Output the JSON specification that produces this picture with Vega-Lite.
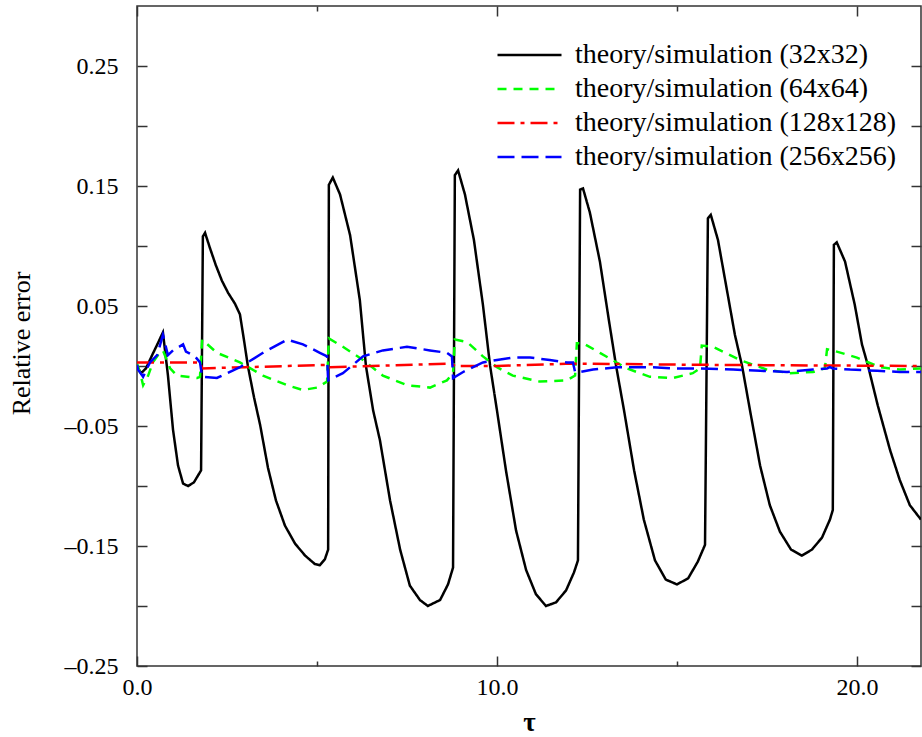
{
  "$schema": "https://vega.github.io/schema/vega-lite/v6.json",
  "width": 784,
  "height": 660,
  "autosize": {"type": "none"},
  "padding": {"left": 137, "top": 6, "right": 1, "bottom": 71},
  "background": "white",
  "config": {
    "font": "Liberation Serif",
    "view": {"stroke": "#333333", "strokeWidth": 1.5},
    "axis": {
      "domain": false,
      "grid": false,
      "tickColor": "#333333",
      "tickWidth": 1.5,
      "labelFont": "Liberation Serif",
      "labelFontSize": 24,
      "labelColor": "black",
      "labelOverlap": false,
      "labelFlush": false,
      "titleFont": "Liberation Serif",
      "titleColor": "black"
    },
    "legend": {
      "orient": "none",
      "legendX": 359,
      "legendY": 32,
      "padding": 0,
      "symbolType": "stroke",
      "symbolSize": 4096,
      "symbolStrokeWidth": 2.5,
      "labelFont": "Liberation Serif",
      "labelFontSize": 28,
      "labelColor": "black",
      "labelOffset": 12,
      "labelLimit": 0,
      "clipHeight": 34,
      "rowPadding": 0
    }
  },
  "data": {"values": [
    {"t":0,"v":0.0,"s":"theory/simulation (32x32)"},
    {"t":0.11,"v":-0.006,"s":"theory/simulation (32x32)"},
    {"t":0.25,"v":-0.002,"s":"theory/simulation (32x32)"},
    {"t":0.42,"v":0.009,"s":"theory/simulation (32x32)"},
    {"t":0.58,"v":0.019,"s":"theory/simulation (32x32)"},
    {"t":0.72,"v":0.028,"s":"theory/simulation (32x32)"},
    {"t":0.86,"v":-0.008,"s":"theory/simulation (32x32)"},
    {"t":1.0,"v":-0.053,"s":"theory/simulation (32x32)"},
    {"t":1.14,"v":-0.083,"s":"theory/simulation (32x32)"},
    {"t":1.28,"v":-0.098,"s":"theory/simulation (32x32)"},
    {"t":1.42,"v":-0.1,"s":"theory/simulation (32x32)"},
    {"t":1.58,"v":-0.097,"s":"theory/simulation (32x32)"},
    {"t":1.72,"v":-0.09,"s":"theory/simulation (32x32)"},
    {"t":1.78,"v":-0.087,"s":"theory/simulation (32x32)"},
    {"t":1.83,"v":0.108,"s":"theory/simulation (32x32)"},
    {"t":1.89,"v":0.111,"s":"theory/simulation (32x32)"},
    {"t":2.03,"v":0.098,"s":"theory/simulation (32x32)"},
    {"t":2.19,"v":0.084,"s":"theory/simulation (32x32)"},
    {"t":2.36,"v":0.071,"s":"theory/simulation (32x32)"},
    {"t":2.53,"v":0.061,"s":"theory/simulation (32x32)"},
    {"t":2.72,"v":0.052,"s":"theory/simulation (32x32)"},
    {"t":2.86,"v":0.043,"s":"theory/simulation (32x32)"},
    {"t":2.97,"v":0.022,"s":"theory/simulation (32x32)"},
    {"t":3.08,"v":0.0,"s":"theory/simulation (32x32)"},
    {"t":3.25,"v":-0.026,"s":"theory/simulation (32x32)"},
    {"t":3.42,"v":-0.049,"s":"theory/simulation (32x32)"},
    {"t":3.64,"v":-0.085,"s":"theory/simulation (32x32)"},
    {"t":3.86,"v":-0.112,"s":"theory/simulation (32x32)"},
    {"t":4.11,"v":-0.133,"s":"theory/simulation (32x32)"},
    {"t":4.39,"v":-0.148,"s":"theory/simulation (32x32)"},
    {"t":4.67,"v":-0.158,"s":"theory/simulation (32x32)"},
    {"t":4.94,"v":-0.165,"s":"theory/simulation (32x32)"},
    {"t":5.08,"v":-0.166,"s":"theory/simulation (32x32)"},
    {"t":5.22,"v":-0.161,"s":"theory/simulation (32x32)"},
    {"t":5.31,"v":-0.153,"s":"theory/simulation (32x32)"},
    {"t":5.33,"v":0.151,"s":"theory/simulation (32x32)"},
    {"t":5.44,"v":0.157,"s":"theory/simulation (32x32)"},
    {"t":5.64,"v":0.143,"s":"theory/simulation (32x32)"},
    {"t":5.92,"v":0.109,"s":"theory/simulation (32x32)"},
    {"t":6.19,"v":0.055,"s":"theory/simulation (32x32)"},
    {"t":6.36,"v":0.0,"s":"theory/simulation (32x32)"},
    {"t":6.56,"v":-0.037,"s":"theory/simulation (32x32)"},
    {"t":6.75,"v":-0.062,"s":"theory/simulation (32x32)"},
    {"t":7.03,"v":-0.112,"s":"theory/simulation (32x32)"},
    {"t":7.31,"v":-0.153,"s":"theory/simulation (32x32)"},
    {"t":7.58,"v":-0.183,"s":"theory/simulation (32x32)"},
    {"t":7.86,"v":-0.195,"s":"theory/simulation (32x32)"},
    {"t":8.08,"v":-0.2,"s":"theory/simulation (32x32)"},
    {"t":8.42,"v":-0.195,"s":"theory/simulation (32x32)"},
    {"t":8.64,"v":-0.182,"s":"theory/simulation (32x32)"},
    {"t":8.78,"v":-0.168,"s":"theory/simulation (32x32)"},
    {"t":8.83,"v":0.159,"s":"theory/simulation (32x32)"},
    {"t":8.92,"v":0.163,"s":"theory/simulation (32x32)"},
    {"t":9.11,"v":0.143,"s":"theory/simulation (32x32)"},
    {"t":9.36,"v":0.105,"s":"theory/simulation (32x32)"},
    {"t":9.61,"v":0.051,"s":"theory/simulation (32x32)"},
    {"t":9.81,"v":0.0,"s":"theory/simulation (32x32)"},
    {"t":10.0,"v":-0.037,"s":"theory/simulation (32x32)"},
    {"t":10.25,"v":-0.087,"s":"theory/simulation (32x32)"},
    {"t":10.53,"v":-0.137,"s":"theory/simulation (32x32)"},
    {"t":10.81,"v":-0.17,"s":"theory/simulation (32x32)"},
    {"t":11.08,"v":-0.19,"s":"theory/simulation (32x32)"},
    {"t":11.36,"v":-0.2,"s":"theory/simulation (32x32)"},
    {"t":11.64,"v":-0.197,"s":"theory/simulation (32x32)"},
    {"t":11.92,"v":-0.187,"s":"theory/simulation (32x32)"},
    {"t":12.14,"v":-0.172,"s":"theory/simulation (32x32)"},
    {"t":12.25,"v":-0.162,"s":"theory/simulation (32x32)"},
    {"t":12.31,"v":0.147,"s":"theory/simulation (32x32)"},
    {"t":12.39,"v":0.148,"s":"theory/simulation (32x32)"},
    {"t":12.58,"v":0.128,"s":"theory/simulation (32x32)"},
    {"t":12.86,"v":0.087,"s":"theory/simulation (32x32)"},
    {"t":13.11,"v":0.038,"s":"theory/simulation (32x32)"},
    {"t":13.31,"v":0.0,"s":"theory/simulation (32x32)"},
    {"t":13.53,"v":-0.037,"s":"theory/simulation (32x32)"},
    {"t":13.81,"v":-0.087,"s":"theory/simulation (32x32)"},
    {"t":14.08,"v":-0.128,"s":"theory/simulation (32x32)"},
    {"t":14.39,"v":-0.162,"s":"theory/simulation (32x32)"},
    {"t":14.69,"v":-0.178,"s":"theory/simulation (32x32)"},
    {"t":15.0,"v":-0.182,"s":"theory/simulation (32x32)"},
    {"t":15.31,"v":-0.177,"s":"theory/simulation (32x32)"},
    {"t":15.58,"v":-0.163,"s":"theory/simulation (32x32)"},
    {"t":15.78,"v":-0.149,"s":"theory/simulation (32x32)"},
    {"t":15.86,"v":0.123,"s":"theory/simulation (32x32)"},
    {"t":15.94,"v":0.126,"s":"theory/simulation (32x32)"},
    {"t":16.14,"v":0.105,"s":"theory/simulation (32x32)"},
    {"t":16.39,"v":0.063,"s":"theory/simulation (32x32)"},
    {"t":16.61,"v":0.026,"s":"theory/simulation (32x32)"},
    {"t":16.81,"v":0.0,"s":"theory/simulation (32x32)"},
    {"t":17.03,"v":-0.037,"s":"theory/simulation (32x32)"},
    {"t":17.31,"v":-0.083,"s":"theory/simulation (32x32)"},
    {"t":17.58,"v":-0.116,"s":"theory/simulation (32x32)"},
    {"t":17.86,"v":-0.138,"s":"theory/simulation (32x32)"},
    {"t":18.17,"v":-0.153,"s":"theory/simulation (32x32)"},
    {"t":18.47,"v":-0.158,"s":"theory/simulation (32x32)"},
    {"t":18.75,"v":-0.153,"s":"theory/simulation (32x32)"},
    {"t":19.03,"v":-0.143,"s":"theory/simulation (32x32)"},
    {"t":19.25,"v":-0.128,"s":"theory/simulation (32x32)"},
    {"t":19.33,"v":-0.12,"s":"theory/simulation (32x32)"},
    {"t":19.36,"v":0.101,"s":"theory/simulation (32x32)"},
    {"t":19.44,"v":0.103,"s":"theory/simulation (32x32)"},
    {"t":19.67,"v":0.087,"s":"theory/simulation (32x32)"},
    {"t":19.94,"v":0.051,"s":"theory/simulation (32x32)"},
    {"t":20.14,"v":0.018,"s":"theory/simulation (32x32)"},
    {"t":20.31,"v":0.0,"s":"theory/simulation (32x32)"},
    {"t":20.58,"v":-0.033,"s":"theory/simulation (32x32)"},
    {"t":20.92,"v":-0.07,"s":"theory/simulation (32x32)"},
    {"t":21.19,"v":-0.095,"s":"theory/simulation (32x32)"},
    {"t":21.47,"v":-0.116,"s":"theory/simulation (32x32)"},
    {"t":21.78,"v":-0.128,"s":"theory/simulation (32x32)"},

    {"t":0,"v":0.002,"s":"theory/simulation (64x64)"},
    {"t":0.08,"v":-0.005,"s":"theory/simulation (64x64)"},
    {"t":0.17,"v":-0.016,"s":"theory/simulation (64x64)"},
    {"t":0.31,"v":-0.008,"s":"theory/simulation (64x64)"},
    {"t":0.44,"v":0.003,"s":"theory/simulation (64x64)"},
    {"t":0.58,"v":0.009,"s":"theory/simulation (64x64)"},
    {"t":0.72,"v":0.013,"s":"theory/simulation (64x64)"},
    {"t":0.92,"v":-0.002,"s":"theory/simulation (64x64)"},
    {"t":1.11,"v":-0.008,"s":"theory/simulation (64x64)"},
    {"t":1.39,"v":-0.009,"s":"theory/simulation (64x64)"},
    {"t":1.67,"v":-0.01,"s":"theory/simulation (64x64)"},
    {"t":1.75,"v":-0.009,"s":"theory/simulation (64x64)"},
    {"t":1.81,"v":0.022,"s":"theory/simulation (64x64)"},
    {"t":2.22,"v":0.011,"s":"theory/simulation (64x64)"},
    {"t":2.86,"v":0.003,"s":"theory/simulation (64x64)"},
    {"t":3.5,"v":-0.008,"s":"theory/simulation (64x64)"},
    {"t":4.17,"v":-0.016,"s":"theory/simulation (64x64)"},
    {"t":4.61,"v":-0.02,"s":"theory/simulation (64x64)"},
    {"t":5.0,"v":-0.018,"s":"theory/simulation (64x64)"},
    {"t":5.28,"v":-0.013,"s":"theory/simulation (64x64)"},
    {"t":5.33,"v":0.023,"s":"theory/simulation (64x64)"},
    {"t":5.72,"v":0.016,"s":"theory/simulation (64x64)"},
    {"t":6.28,"v":0.005,"s":"theory/simulation (64x64)"},
    {"t":6.83,"v":-0.008,"s":"theory/simulation (64x64)"},
    {"t":7.5,"v":-0.016,"s":"theory/simulation (64x64)"},
    {"t":8.14,"v":-0.018,"s":"theory/simulation (64x64)"},
    {"t":8.61,"v":-0.012,"s":"theory/simulation (64x64)"},
    {"t":8.78,"v":-0.006,"s":"theory/simulation (64x64)"},
    {"t":8.83,"v":0.022,"s":"theory/simulation (64x64)"},
    {"t":9.17,"v":0.02,"s":"theory/simulation (64x64)"},
    {"t":9.61,"v":0.008,"s":"theory/simulation (64x64)"},
    {"t":10.0,"v":-0.001,"s":"theory/simulation (64x64)"},
    {"t":10.44,"v":-0.008,"s":"theory/simulation (64x64)"},
    {"t":11.19,"v":-0.013,"s":"theory/simulation (64x64)"},
    {"t":11.94,"v":-0.012,"s":"theory/simulation (64x64)"},
    {"t":12.17,"v":-0.008,"s":"theory/simulation (64x64)"},
    {"t":12.22,"v":0.019,"s":"theory/simulation (64x64)"},
    {"t":12.39,"v":0.019,"s":"theory/simulation (64x64)"},
    {"t":12.86,"v":0.011,"s":"theory/simulation (64x64)"},
    {"t":13.61,"v":-0.002,"s":"theory/simulation (64x64)"},
    {"t":14.25,"v":-0.009,"s":"theory/simulation (64x64)"},
    {"t":14.89,"v":-0.01,"s":"theory/simulation (64x64)"},
    {"t":15.44,"v":-0.006,"s":"theory/simulation (64x64)"},
    {"t":15.64,"v":-0.002,"s":"theory/simulation (64x64)"},
    {"t":15.69,"v":0.017,"s":"theory/simulation (64x64)"},
    {"t":16.0,"v":0.016,"s":"theory/simulation (64x64)"},
    {"t":16.75,"v":0.005,"s":"theory/simulation (64x64)"},
    {"t":17.5,"v":-0.003,"s":"theory/simulation (64x64)"},
    {"t":18.14,"v":-0.006,"s":"theory/simulation (64x64)"},
    {"t":18.78,"v":-0.005,"s":"theory/simulation (64x64)"},
    {"t":19.11,"v":-0.002,"s":"theory/simulation (64x64)"},
    {"t":19.17,"v":0.014,"s":"theory/simulation (64x64)"},
    {"t":19.33,"v":0.013,"s":"theory/simulation (64x64)"},
    {"t":20.0,"v":0.007,"s":"theory/simulation (64x64)"},
    {"t":20.64,"v":-0.001,"s":"theory/simulation (64x64)"},
    {"t":21.19,"v":-0.003,"s":"theory/simulation (64x64)"},
    {"t":21.78,"v":-0.002,"s":"theory/simulation (64x64)"},

    {"t":0,"v":0.003,"s":"theory/simulation (128x128)"},
    {"t":1.75,"v":0.003,"s":"theory/simulation (128x128)"},
    {"t":1.81,"v":-0.002,"s":"theory/simulation (128x128)"},
    {"t":3.0,"v":-0.001,"s":"theory/simulation (128x128)"},
    {"t":5.3,"v":0.001,"s":"theory/simulation (128x128)"},
    {"t":5.36,"v":-0.001,"s":"theory/simulation (128x128)"},
    {"t":8.75,"v":0.002,"s":"theory/simulation (128x128)"},
    {"t":8.83,"v":0.0,"s":"theory/simulation (128x128)"},
    {"t":10.0,"v":0.0,"s":"theory/simulation (128x128)"},
    {"t":12.1,"v":0.002,"s":"theory/simulation (128x128)"},
    {"t":15.6,"v":0.001,"s":"theory/simulation (128x128)"},
    {"t":21.78,"v":0.0,"s":"theory/simulation (128x128)"},

    {"t":0,"v":0.001,"s":"theory/simulation (256x256)"},
    {"t":0.03,"v":-0.003,"s":"theory/simulation (256x256)"},
    {"t":0.17,"v":-0.009,"s":"theory/simulation (256x256)"},
    {"t":0.36,"v":0.003,"s":"theory/simulation (256x256)"},
    {"t":0.56,"v":0.009,"s":"theory/simulation (256x256)"},
    {"t":0.72,"v":0.026,"s":"theory/simulation (256x256)"},
    {"t":0.86,"v":0.009,"s":"theory/simulation (256x256)"},
    {"t":1.0,"v":0.013,"s":"theory/simulation (256x256)"},
    {"t":1.28,"v":0.018,"s":"theory/simulation (256x256)"},
    {"t":1.36,"v":0.012,"s":"theory/simulation (256x256)"},
    {"t":1.61,"v":0.008,"s":"theory/simulation (256x256)"},
    {"t":1.75,"v":0.003,"s":"theory/simulation (256x256)"},
    {"t":1.81,"v":-0.009,"s":"theory/simulation (256x256)"},
    {"t":2.22,"v":-0.01,"s":"theory/simulation (256x256)"},
    {"t":2.86,"v":-0.001,"s":"theory/simulation (256x256)"},
    {"t":3.5,"v":0.011,"s":"theory/simulation (256x256)"},
    {"t":4.17,"v":0.022,"s":"theory/simulation (256x256)"},
    {"t":4.61,"v":0.018,"s":"theory/simulation (256x256)"},
    {"t":5.08,"v":0.011,"s":"theory/simulation (256x256)"},
    {"t":5.28,"v":0.008,"s":"theory/simulation (256x256)"},
    {"t":5.31,"v":-0.012,"s":"theory/simulation (256x256)"},
    {"t":5.72,"v":-0.006,"s":"theory/simulation (256x256)"},
    {"t":6.28,"v":0.008,"s":"theory/simulation (256x256)"},
    {"t":6.83,"v":0.013,"s":"theory/simulation (256x256)"},
    {"t":7.5,"v":0.016,"s":"theory/simulation (256x256)"},
    {"t":8.14,"v":0.013,"s":"theory/simulation (256x256)"},
    {"t":8.61,"v":0.011,"s":"theory/simulation (256x256)"},
    {"t":8.75,"v":0.008,"s":"theory/simulation (256x256)"},
    {"t":8.78,"v":-0.01,"s":"theory/simulation (256x256)"},
    {"t":9.06,"v":-0.005,"s":"theory/simulation (256x256)"},
    {"t":9.61,"v":0.003,"s":"theory/simulation (256x256)"},
    {"t":10.0,"v":0.005,"s":"theory/simulation (256x256)"},
    {"t":10.44,"v":0.007,"s":"theory/simulation (256x256)"},
    {"t":10.92,"v":0.007,"s":"theory/simulation (256x256)"},
    {"t":11.47,"v":0.005,"s":"theory/simulation (256x256)"},
    {"t":11.94,"v":0.003,"s":"theory/simulation (256x256)"},
    {"t":12.11,"v":0.003,"s":"theory/simulation (256x256)"},
    {"t":12.17,"v":-0.005,"s":"theory/simulation (256x256)"},
    {"t":12.31,"v":-0.005,"s":"theory/simulation (256x256)"},
    {"t":12.67,"v":-0.003,"s":"theory/simulation (256x256)"},
    {"t":13.33,"v":-0.001,"s":"theory/simulation (256x256)"},
    {"t":14.25,"v":-0.001,"s":"theory/simulation (256x256)"},
    {"t":14.89,"v":-0.002,"s":"theory/simulation (256x256)"},
    {"t":15.64,"v":-0.002,"s":"theory/simulation (256x256)"},
    {"t":16.56,"v":-0.003,"s":"theory/simulation (256x256)"},
    {"t":17.31,"v":-0.004,"s":"theory/simulation (256x256)"},
    {"t":18.06,"v":-0.005,"s":"theory/simulation (256x256)"},
    {"t":18.78,"v":-0.003,"s":"theory/simulation (256x256)"},
    {"t":19.17,"v":-0.002,"s":"theory/simulation (256x256)"},
    {"t":19.25,"v":-0.001,"s":"theory/simulation (256x256)"},
    {"t":19.33,"v":-0.002,"s":"theory/simulation (256x256)"},
    {"t":19.81,"v":-0.003,"s":"theory/simulation (256x256)"},
    {"t":20.56,"v":-0.004,"s":"theory/simulation (256x256)"},
    {"t":21.19,"v":-0.005,"s":"theory/simulation (256x256)"},
    {"t":21.78,"v":-0.005,"s":"theory/simulation (256x256)"}
  ]},
  "layer": [
    {
      "mark": {"type": "line", "strokeWidth": 2.5, "clip": true},
      "encoding": {
        "x": {
          "field": "t", "type": "quantitative",
          "scale": {"domain": [0, 21.78], "nice": false, "zero": false},
          "axis": {
            "orient": "bottom",
            "values": [0, 5, 10, 15, 20],
            "tickSize": {"condition": {"test": "datum.value % 10 === 0", "value": -10}, "value": -5},
            "labelExpr": "datum.value % 10 === 0 ? format(datum.value, '.1f') : ''",
            "labelPadding": 19,
            "title": "τ",
            "titleFontSize": 27,
            "titleFontWeight": "bold",
            "titlePadding": 5
          }
        },
        "y": {
          "field": "v", "type": "quantitative",
          "scale": {"domain": [-0.25, 0.3], "nice": false, "zero": false},
          "axis": {
            "orient": "left",
            "values": [-0.25, -0.2, -0.15, -0.1, -0.05, 0, 0.05, 0.1, 0.15, 0.2, 0.25],
            "tickSize": -10,
            "labelExpr": "round(datum.value * 100) % 10 != 0 ? ((datum.value < 0 ? '–' : '') + format(abs(datum.value), '.2f')) : ''",
            "labelPadding": 29,
            "title": "Relative error",
            "titleFontSize": 26,
            "titleFontWeight": "normal",
            "titlePadding": 30,
            "titleY": 337
          }
        },
        "color": {
          "field": "s", "type": "nominal",
          "scale": {
            "domain": ["theory/simulation (32x32)", "theory/simulation (64x64)", "theory/simulation (128x128)", "theory/simulation (256x256)"],
            "range": ["#000000", "#00ff00", "#ff0000", "#0000ff"]
          },
          "legend": {"title": null}
        },
        "strokeDash": {
          "field": "s", "type": "nominal",
          "scale": {
            "domain": ["theory/simulation (32x32)", "theory/simulation (64x64)", "theory/simulation (128x128)", "theory/simulation (256x256)"],
            "range": [[1, 0], [9, 7], [17, 6, 4, 6], [17, 7]]
          },
          "legend": {"title": null}
        }
      }
    },
    {
      "mark": {"type": "line", "opacity": 0},
      "encoding": {
        "x": {
          "field": "t", "type": "quantitative",
          "scale": {"domain": [0, 21.78], "nice": false, "zero": false},
          "axis": {
            "orient": "top",
            "values": [0, 5, 10, 15, 20],
            "tickSize": {"condition": {"test": "datum.value % 10 === 0", "value": -10}, "value": -5},
            "labels": false,
            "title": null
          }
        },
        "y": {
          "field": "v", "type": "quantitative",
          "scale": {"domain": [-0.25, 0.3], "nice": false, "zero": false},
          "axis": {
            "orient": "right",
            "values": [-0.25, -0.2, -0.15, -0.1, -0.05, 0, 0.05, 0.1, 0.15, 0.2, 0.25],
            "tickSize": -10,
            "labels": false,
            "title": null
          }
        },
        "detail": {"field": "s", "type": "nominal"}
      }
    }
  ],
  "resolve": {"axis": {"x": "independent", "y": "independent"}}
}
